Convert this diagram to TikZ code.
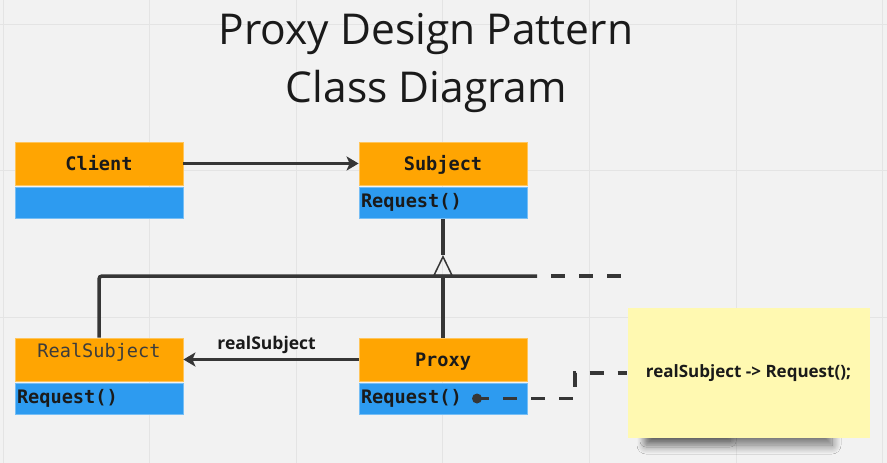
\documentclass[tikz,border=0pt]{standalone}
\usepackage{fontspec}
\setmainfont{Open Sans}
\newfontfamily\codefont{DejaVu Sans Mono}
\usepackage{tikz}
\usetikzlibrary{arrows.meta,positioning,shadows.blur}
\definecolor{paper}{HTML}{F2F2F2}
\definecolor{gridgray}{HTML}{E4E4E4}
\definecolor{umlorange}{HTML}{FFA502}
\definecolor{umlblue}{HTML}{2D9BF0}
\definecolor{wire}{HTML}{363636}
\definecolor{ink}{HTML}{1A1A1A}
\definecolor{noteyellow}{HTML}{FFF9B1}
\tikzset{
  gridline/.style={draw=gridgray,line width=1pt},
  head/.style={rectangle,fill=umlorange,draw=umlorange!65!white,line width=0.8pt,
    minimum width=168pt,minimum height=43pt,inner sep=0pt,text=ink,
    font=\codefont\bfseries\fontsize{18.6}{20}\selectfont,text height=13pt,text depth=0pt},
  ops/.style={rectangle,fill=umlblue,draw=umlblue!65!white,line width=0.8pt,
    minimum width=168pt,minimum height=31pt,inner xsep=2pt,inner ysep=0pt,
    text width=164pt,align=left,text=ink,
    font=\codefont\bfseries\fontsize{18.6}{20}\selectfont,text height=13pt,text depth=4pt},
  link/.style={draw=wire,line width=3.5pt},
  assoc/.style={link,-{Stealth[length=12pt,width=14pt,inset=3pt]}},
  gentip/.style={draw=wire,line width=1.5pt,-{Triangle[open,length=21pt,width=20pt,line width=1.5pt]}},
  farline/.style={link,dash pattern=on 14pt off 14pt},
}
\begin{document}
\begin{tikzpicture}[x=1pt,y=-1pt]
  \useasboundingbox (0,0) rectangle (887,463);
  \fill[paper] (0,0) rectangle (887,463);
  % background grid
  \foreach \gx in {3,149.6,296.2,442.8,589.4,736,882.6}
    \draw[gridline] (\gx,0) -- (\gx,463);
  \foreach \gy in {24,170.6,317.2}
    \draw[gridline] (0,\gy) -- (887,\gy);

  % title
  \node[anchor=base,text=ink,font=\fontsize{42.5}{50}\selectfont] (titletop) at (426,44) {Proxy Design Pattern};
  \node[anchor=base,text=ink,font=\fontsize{42.5}{50}\selectfont] (titlebottom) at (426.5,102) {Class Diagram};

  % classes
  \node[head] (client) at (99,163.5) {Client};
  \node[ops,below=2pt of client] (clientops) {};
  \node[head] (subject) at (443,163.5) {Subject};
  \node[ops,below=2pt of subject] (subjectops) {Request()};
  \node[head,font=\codefont\fontsize{18.6}{20}\selectfont,text=ink!85,text depth=17pt] (realsubject) at (99,359.5) {RealSubject};
  \node[ops,below=2pt of realsubject] (realops) {Request()};
  \node[head] (proxy) at (443,359.5) {Proxy};
  \node[ops,below=2pt of proxy] (proxyops) {Request()};

  % associations
  \draw[assoc] (client) -- (subject);
  \draw[assoc] (proxy) -- (realsubject)
    node[pos=0.525,above=1pt,text=ink,font=\bfseries\fontsize{17.5}{19}\selectfont] (rolename) {realSubject};

  % generalization
  \coordinate (apex) at (443,255);
  \coordinate (joint) at (443,276);
  \coordinate (corner) at (99,276);
  \coordinate (tail) at (537,276);
  \coordinate (tailend) at (621,276);
  \draw[link] (subjectops) -- (apex);
  \draw[link,rounded corners=3pt] (realsubject.north) -- (corner) -- (tail);
  \draw[farline,dash phase=14pt] (tail) -- (tailend);
  \draw[link] (proxy.north) -- (joint);
  \draw[gentip] (joint) -- (apex);

  % note
  \path[blur shadow={shadow xshift=0pt,shadow yshift=-7pt,shadow blur radius=9pt,shadow blur steps=16,shadow opacity=55}]
    (646,395) rectangle (832,438);
  \path[blur shadow={shadow xshift=0pt,shadow yshift=-3pt,shadow blur radius=6pt,shadow blur steps=12,shadow opacity=25}]
    (646,410) rectangle (730,438);
  \node[rectangle,fill=noteyellow,minimum width=242pt,minimum height=130pt,inner sep=0pt,
    text=ink,font=\bfseries\fontsize{17}{19}\selectfont] (note) at (748.5,373) {realSubject -> Request();};
  \coordinate (hook) at (477,398.5);
  \coordinate (bend) at (575,398.5);
  \fill[wire] (hook) circle (5pt);
  \draw[farline,dash phase=2pt] (hook) -- (bend) |- (note.west);
\end{tikzpicture}
\end{document}
